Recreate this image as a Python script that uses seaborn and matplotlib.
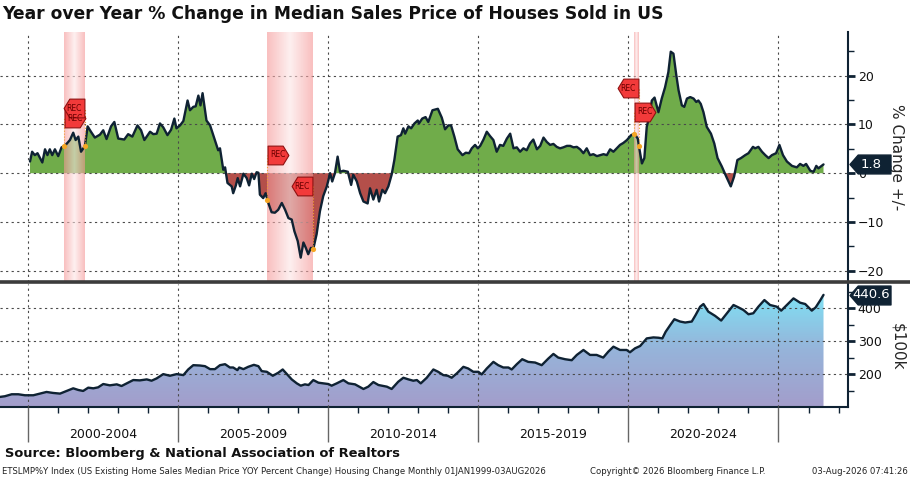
import numpy as np
import pandas as pd
import matplotlib
matplotlib.use("Agg")
import matplotlib.pyplot as plt
import seaborn as sns
from matplotlib.colors import LinearSegmentedColormap
from matplotlib.path import Path
from matplotlib.lines import Line2D
from matplotlib.ticker import FixedLocator, MultipleLocator

# YoY % change in median sales price
yoy_year = [
    2000.06, 2000.13, 2000.22, 2000.31, 2000.47, 2000.56, 2000.64, 2000.72, 2000.80, 2000.89,
    2001.00, 2001.11, 2001.22, 2001.39, 2001.50, 2001.58, 2001.67, 2001.76, 2001.89, 2001.98,
    2002.09, 2002.22, 2002.39, 2002.50, 2002.61, 2002.76, 2002.87, 2003.00, 2003.20, 2003.33,
    2003.47, 2003.64, 2003.76, 2003.87, 2003.98, 2004.06, 2004.17, 2004.28, 2004.39, 2004.50,
    2004.64, 2004.76, 2004.87, 2004.94, 2005.06, 2005.17, 2005.31, 2005.39, 2005.50, 2005.58,
    2005.67, 2005.74, 2005.81, 2005.94, 2006.06, 2006.22, 2006.33, 2006.39, 2006.50, 2006.56,
    2006.64, 2006.78, 2006.83, 2006.92, 2006.98, 2007.06, 2007.17, 2007.28, 2007.36, 2007.45,
    2007.53, 2007.61, 2007.67, 2007.72, 2007.83, 2007.91, 2008.00, 2008.11, 2008.22, 2008.33,
    2008.45, 2008.56, 2008.67, 2008.78, 2008.87, 2008.98, 2009.08, 2009.17, 2009.25, 2009.33,
    2009.42, 2009.50, 2009.61, 2009.72, 2009.83, 2009.95, 2010.06, 2010.13, 2010.22, 2010.31,
    2010.39, 2010.50, 2010.65, 2010.76, 2010.83, 2010.95, 2011.06, 2011.17, 2011.31, 2011.39,
    2011.50, 2011.61, 2011.69, 2011.80, 2011.89, 2012.00, 2012.11, 2012.20, 2012.31, 2012.42,
    2012.50, 2012.56, 2012.67, 2012.76, 2012.87, 2012.98, 2013.02, 2013.13, 2013.24, 2013.33,
    2013.47, 2013.65, 2013.78, 2013.89, 2014.00, 2014.09, 2014.20, 2014.31, 2014.47, 2014.58,
    2014.69, 2014.78, 2014.89, 2014.98, 2015.06, 2015.17, 2015.28, 2015.39, 2015.50, 2015.61,
    2015.72, 2015.83, 2015.95, 2016.06, 2016.17, 2016.28, 2016.39, 2016.50, 2016.61, 2016.72,
    2016.83, 2016.95, 2017.06, 2017.17, 2017.28, 2017.39, 2017.50, 2017.61, 2017.72, 2017.83,
    2017.95, 2018.06, 2018.17, 2018.28, 2018.39, 2018.50, 2018.61, 2018.72, 2018.83, 2018.95,
    2019.06, 2019.17, 2019.28, 2019.39, 2019.50, 2019.61, 2019.72, 2019.83, 2019.95, 2020.02,
    2020.09, 2020.20, 2020.31, 2020.39, 2020.45, 2020.53, 2020.61, 2020.69, 2020.78, 2020.87,
    2021.00, 2021.11, 2021.22, 2021.33, 2021.41, 2021.50, 2021.59, 2021.67, 2021.78, 2021.86,
    2021.95, 2022.06, 2022.17, 2022.26, 2022.33, 2022.41, 2022.50, 2022.61, 2022.75, 2022.86,
    2022.97, 2023.11, 2023.26, 2023.41, 2023.52, 2023.63, 2023.75, 2023.89, 2024.00, 2024.15,
    2024.22, 2024.33, 2024.45, 2024.56, 2024.67, 2024.78, 2024.92, 2025.03, 2025.15, 2025.28,
    2025.45, 2025.61, 2025.72, 2025.83, 2025.92, 2026.06, 2026.17, 2026.26, 2026.33, 2026.50,
]
yoy_pct = [
    2.4, 4.4, 3.7, 4.1, 2.2, 4.9, 3.7, 4.9, 3.7, 4.9,
    3.5, 5.3, 5.6, 6.8, 8.3, 6.8, 7.5, 4.4, 5.6, 9.6,
    8.5, 7.3, 7.9, 8.8, 7.0, 9.6, 10.5, 7.1, 6.9, 8.0,
    7.5, 9.8, 8.8, 6.8, 7.8, 8.5, 8.0, 8.1, 10.2, 9.4,
    7.8, 8.9, 11.2, 9.2, 9.8, 10.7, 14.9, 12.9, 13.6, 13.7,
    15.9, 13.9, 16.4, 10.8, 9.8, 6.8, 4.7, 5.1, 0.7, 1.2,
    -2.0, -2.7, -4.1, -2.5, -1.0, -2.7, -0.1, -1.0, -2.5, -0.1,
    -1.2, 0.2, 0.1, -4.4, -5.1, -4.1, -6.1, -8.0, -8.1, -7.5,
    -6.1, -7.5, -9.2, -9.5, -11.9, -13.9, -17.3, -14.2, -15.3, -16.6,
    -15.3, -15.5, -12.5, -7.8, -4.7, -2.7, 0.0, -1.7, 0.0, 3.4,
    0.3, 0.5, 0.3, -2.4, -0.3, -1.7, -4.1, -5.8, -6.2, -3.1,
    -5.4, -3.4, -5.8, -3.4, -4.1, -2.7, -0.3, 2.7, 7.5, 7.8,
    9.2, 8.1, 9.6, 9.2, 10.2, 10.8, 10.2, 11.2, 11.5, 10.5,
    12.9, 13.2, 11.4, 9.0, 9.8, 9.8, 7.5, 4.9, 3.7, 4.2,
    4.1, 5.1, 5.8, 5.1, 5.6, 6.9, 8.5, 7.6, 6.8, 4.4,
    5.8, 5.6, 7.1, 8.1, 5.1, 5.3, 4.4, 5.1, 4.7, 6.1,
    6.9, 4.9, 5.6, 7.3, 6.4, 5.8, 6.0, 5.4, 5.1, 5.3,
    5.6, 5.6, 5.3, 5.4, 4.9, 4.1, 5.1, 3.7, 3.9, 3.5,
    3.7, 3.9, 3.7, 4.9, 4.4, 5.1, 5.8, 6.2, 6.8, 7.3,
    7.8, 8.1, 7.1, 4.1, 2.0, 3.1, 9.5, 11.5, 14.9, 15.5,
    12.5, 15.3, 17.6, 20.7, 24.9, 24.5, 20.3, 17.0, 13.9, 13.6,
    15.3, 15.6, 15.3, 14.6, 14.9, 14.2, 12.5, 9.5, 8.1, 6.1,
    3.1, 1.4, -0.7, -2.7, -0.7, 2.7, 3.1, 3.7, 4.1, 5.4,
    5.1, 5.4, 4.4, 3.7, 3.1, 3.7, 4.1, 5.8, 3.7, 2.4,
    1.5, 1.2, 1.9, 1.5, 1.9, 0.5, 0.3, 1.5, 1.0, 1.8,
]

# median sales price, thousands of USD
price_year = [
    1999.06, 1999.22, 1999.45, 1999.67, 1999.89, 2000.17, 2000.39, 2000.61, 2000.83, 2001.06,
    2001.28, 2001.50, 2001.67, 2001.83, 2002.00, 2002.17, 2002.33, 2002.50, 2002.72, 2002.95,
    2003.11, 2003.28, 2003.50, 2003.72, 2003.95, 2004.11, 2004.28, 2004.50, 2004.72, 2004.95,
    2005.17, 2005.33, 2005.50, 2005.72, 2005.89, 2006.06, 2006.22, 2006.39, 2006.56, 2006.72,
    2006.83, 2006.97, 2007.03, 2007.17, 2007.33, 2007.52, 2007.67, 2007.78, 2007.95, 2008.15,
    2008.33, 2008.48, 2008.62, 2008.78, 2008.95, 2009.08, 2009.22, 2009.34, 2009.50, 2009.67,
    2009.83, 2010.00, 2010.11, 2010.28, 2010.50, 2010.67, 2010.89, 2011.17, 2011.33, 2011.50,
    2011.67, 2011.83, 2011.95, 2012.11, 2012.33, 2012.50, 2012.67, 2012.83, 2012.95, 2013.08,
    2013.28, 2013.50, 2013.66, 2013.83, 2013.98, 2014.11, 2014.28, 2014.50, 2014.66, 2014.83,
    2015.00, 2015.11, 2015.28, 2015.50, 2015.66, 2015.83, 2016.00, 2016.11, 2016.28, 2016.46,
    2016.66, 2016.89, 2017.11, 2017.33, 2017.50, 2017.66, 2017.89, 2018.11, 2018.28, 2018.50,
    2018.72, 2018.94, 2019.16, 2019.33, 2019.50, 2019.72, 2019.94, 2020.05, 2020.22, 2020.39,
    2020.61, 2020.83, 2021.00, 2021.13, 2021.24, 2021.39, 2021.53, 2021.72, 2021.89, 2022.11,
    2022.24, 2022.39, 2022.50, 2022.66, 2022.89, 2023.09, 2023.28, 2023.50, 2023.66, 2023.83,
    2024.00, 2024.16, 2024.33, 2024.53, 2024.72, 2024.94, 2025.09, 2025.28, 2025.50, 2025.72,
    2025.89, 2026.11, 2026.24, 2026.39, 2026.50,
]
price_k = [
    132, 134, 140, 140, 137, 137, 142, 147, 144, 142,
    150, 158, 153, 150, 160, 158, 161, 171, 167, 170,
    165, 173, 183, 182, 185, 181, 188, 201, 196, 201,
    198, 215, 228, 227, 225, 216, 216, 228, 231, 221,
    221, 213, 221, 216, 223, 229, 225, 210, 208, 196,
    205, 215, 201, 185, 173, 166, 170, 168, 183, 175,
    173, 171, 166, 173, 183, 173, 170, 156, 163, 177,
    168, 165, 163, 156, 178, 190, 185, 181, 183, 173,
    190, 215, 208, 198, 196, 190, 203, 223, 218, 208,
    208, 200, 218, 238, 228, 221, 221, 215, 231, 246,
    238, 236, 228, 248, 262, 251, 246, 243, 259, 274,
    259, 259, 251, 269, 284, 274, 274, 267, 279, 286,
    309, 312, 311, 309, 329, 349, 367, 360, 357, 360,
    380, 405, 413, 390, 377, 363, 385, 410, 403, 395,
    382, 385, 405, 425, 410, 405, 393, 410, 430, 417,
    413, 393, 403, 424, 440.6,
]

# recessions (shaded) and REC flag heights
rec_start = [2001.20, 2007.97, 2020.19]
rec_end = [2001.89, 2009.48, 2020.35]
flag_start_y = [11.3, 3.8, 12.6]
flag_end_y = [13.3, -2.7, 17.4]

period_labels = ["2000-2004", "2005-2009", "2010-2014", "2015-2019", "2020-2024"]
period_mid = [2002.5, 2007.5, 2012.5, 2017.5, 2022.5]
year_grid = [2000, 2005, 2010, 2015, 2020, 2025]

title = "Year over Year % Change in Median Sales Price of Houses Sold in US"
source = "Source: Bloomberg & National Association of Realtors"
footer_left = ("ETSLMP%Y Index (US Existing Home Sales Median Price YOY Percent Change) "
               "Housing Change Monthly 01JAN1999-03AUG2026")
footer_mid = "Copyright\u00a9 2026 Bloomberg Finance L.P."
footer_right = "03-Aug-2026 07:41:26"

# colours
navy = "#0f2233"
green = "#70ac4a"
red = "#b44f4a"
grid_col = "#4a4a4a"

sns.set_style("white")
plt.rcParams["font.family"] = ["DejaVu Sans"]

yoy = pd.DataFrame({"year": yoy_year, "pct": yoy_pct})
price = pd.DataFrame({"year": price_year, "price": price_k})

fig = plt.figure(figsize=(9.1, 4.78), dpi=100)
ax1 = fig.add_axes([0.0, 0.41, 0.932, 0.5237])
ax2 = fig.add_axes([0.0, 0.1475, 0.932, 0.2584])
xlim = (1999.06, 2027.32)

# ---- top panel: yoy change
x = yoy["year"].to_numpy()
y = yoy["pct"].to_numpy()
ax1.fill_between(x, y, 0, where=y >= 0, interpolate=True, color=green, lw=0, zorder=2)
ax1.fill_between(x, y, 0, where=y <= 0, interpolate=True, color=red, lw=0, zorder=2)
sns.lineplot(data=yoy, x="year", y="pct", ax=ax1, color=navy, lw=1.7, zorder=4)

band_cmap = LinearSegmentedColormap.from_list("band", ["#fde6e6", "#f59696"])
band = np.abs(np.linspace(-1, 1, 41))[None, :]
ylim1 = (-22.3, 29.0)
for s, e in zip(rec_start, rec_end):
    ax1.imshow(band, cmap=band_cmap, extent=[s, e, ylim1[0], ylim1[1]],
               aspect="auto", alpha=0.6, zorder=3, interpolation="bilinear")

# REC flags
flag_r = Path([(-1, -0.9), (0.45, -0.9), (1, 0), (0.45, 0.9), (-1, 0.9), (-1, -0.9)], closed=True)
flag_l = Path([(1, -0.9), (-0.45, -0.9), (-1, 0), (-0.45, 0.9), (1, 0.9), (1, -0.9)], closed=True)
half_w = 0.35
dot_s = np.interp(rec_start, x, y)
dot_e = np.interp(rec_end, x, y)
for s, e, fs, fe, ds, de in zip(rec_start, rec_end, flag_start_y, flag_end_y, dot_s, dot_e):
    ax1.vlines([s], min(ds, fs), max(ds, fs), color="#f0a030", lw=0.8, ls=":", zorder=5)
    ax1.vlines([e], min(de, fe), max(de, fe), color="#f0a030", lw=0.8, ls=":", zorder=5)
    for cx, cy, mk in [(s + half_w, fs, flag_r), (e - half_w, fe, flag_l)]:
        ax1.plot([cx], [cy], marker=mk, markersize=15, mfc="#f23a3a", mec="#8e1111",
                 mew=0.8, ls="none", zorder=6)
        ax1.text(cx, cy, "REC", fontsize=5.5, color="#6a0000", ha="center",
                 va="center", zorder=7)
ax1.scatter(rec_start + rec_end, list(dot_s) + list(dot_e), s=14, color="#f5a623",
            zorder=5, lw=0)

ax1.set_xlim(*xlim)
ax1.set_ylim(*ylim1)
ax1.set_xlabel("")
ax1.set_ylabel("")
ax1.xaxis.set_major_locator(FixedLocator(year_grid))
ax1.tick_params(axis="x", length=0, labelbottom=False)
ax1.yaxis.tick_right()
ax1.set_yticks([-20, -10, 0, 10, 20])
ax1.yaxis.set_minor_locator(FixedLocator([-15, -5, 5, 15, 25]))
ax1.tick_params(axis="y", which="major", length=5, width=2, color=navy,
                labelsize=9, pad=2, labelcolor="#111111")
ax1.tick_params(axis="y", which="minor", length=4, width=1, color=navy)
ax1.set_axisbelow(False)
ax1.grid(True, which="major", ls=(0, (2, 3)), color=grid_col, lw=0.8)
for side in ["top", "left", "bottom"]:
    ax1.spines[side].set_visible(False)
ax1.spines["right"].set_color(navy)
ax1.spines["right"].set_linewidth(1.5)
ax1.text(1.057, 0.5, "% Change +/-", transform=ax1.transAxes, rotation=270,
         ha="center", va="center", fontsize=11)

# ---- bottom panel: price level
px = price["year"].to_numpy()
py = price["price"].to_numpy()
ylim2 = (100, 473.6)
poly = ax2.fill_between(px, py, ylim2[0], facecolor="none", edgecolor="none")
grad_cmap = LinearSegmentedColormap.from_list("grad", ["#a39dcb", "#96b4da", "#7ee3f5"])
grad = np.linspace(0, 1, 200)[:, None]
im = ax2.imshow(grad, cmap=grad_cmap, extent=[px[0], px[-1], ylim2[0], 450],
                origin="lower", aspect="auto", zorder=2)
im.set_clip_path(poly.get_paths()[0], transform=ax2.transData)
sns.lineplot(data=price, x="year", y="price", ax=ax2, color=navy, lw=1.7, zorder=4)

ax2.set_xlim(*xlim)
ax2.set_ylim(*ylim2)
ax2.set_xlabel("")
ax2.set_ylabel("")
ax2.xaxis.set_major_locator(FixedLocator(year_grid))
ax2.xaxis.set_minor_locator(MultipleLocator(1))
ax2.tick_params(axis="x", which="both", bottom=True, direction="out")
ax2.tick_params(axis="x", which="major", length=25, width=1,
                color="#666666", labelbottom=False)
ax2.tick_params(axis="x", which="minor", length=4, width=1, color=navy)
ax2.yaxis.tick_right()
ax2.set_yticks([200, 300, 400])
ax2.yaxis.set_minor_locator(FixedLocator([150, 250, 350, 450]))
ax2.tick_params(axis="y", which="major", length=5, width=2, color=navy,
                labelsize=9, pad=2, labelcolor="#111111")
ax2.tick_params(axis="y", which="minor", length=4, width=1, color=navy)
ax2.set_axisbelow(False)
ax2.grid(True, which="major", ls=(0, (2, 3)), color=grid_col, lw=0.8)
for side in ["top", "left"]:
    ax2.spines[side].set_visible(False)
for side in ["right", "bottom"]:
    ax2.spines[side].set_color(navy)
    ax2.spines[side].set_linewidth(1.5)
ax2.text(1.059, 0.49, "$100k", transform=ax2.transAxes, rotation=270,
         ha="center", va="center", fontsize=11)
for lab, mid in zip(period_labels, period_mid):
    ax2.text(mid, -0.215, lab, transform=ax2.get_xaxis_transform(), ha="center",
             va="center", fontsize=9, color="#111111")

# last-value boxes on the right axis
tag = Path([(1, -0.46), (-0.6, -0.46), (-1, 0), (-0.6, 0.46), (1, 0.46), (1, -0.46)], closed=True)
for ax, val, txt in [(ax1, yoy_pct[-1], f"{yoy_pct[-1]:.1f}"), (ax2, price_k[-1], f"{price_k[-1]:.1f}")]:
    ax.plot([1.0255], [val], marker=tag, markersize=29.5, mfc=navy, mec=navy,
            transform=ax.get_yaxis_transform(), clip_on=False, ls="none", zorder=10)
    ax.text(1.0275, val, txt, transform=ax.get_yaxis_transform(), ha="center",
            va="center", color="white", fontsize=9.5, zorder=11, clip_on=False)

# divider between the panels
fig.add_artist(Line2D([0, 1], [0.4095, 0.4095], transform=fig.transFigure,
                      color="#3c3c3c", lw=2.6))

fig.text(0.002, 0.9697, title, fontsize=12.3, fontweight="bold", ha="left",
         va="center", color="#111111")
fig.text(0.006, 0.0523, source, fontsize=9.4, fontweight="bold", ha="left",
         va="center", color="#111111")
fig.text(0.002, 0.0146, footer_left, fontsize=6.1, ha="left", va="center", color="#222222")
fig.text(0.648, 0.0146, footer_mid, fontsize=6.1, ha="left", va="center", color="#222222")
fig.text(0.998, 0.0146, footer_right, fontsize=6.1, ha="right", va="center", color="#222222")

fig.savefig("out.png", dpi=100)
